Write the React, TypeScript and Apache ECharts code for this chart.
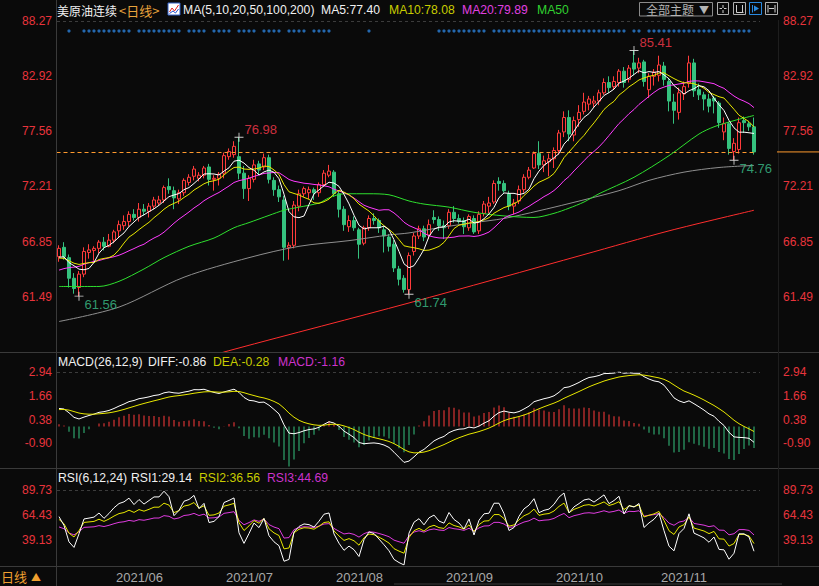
import React, { useEffect, useRef } from "react";
import * as echarts from "echarts";

// ---------- data ----------
const mayDays = [17, 18, 19, 20, 21, 24, 25, 26, 27, 28, 31];
const junDays = [1, 2, 3, 4, 7, 8, 9, 10, 11, 14, 15, 16, 17, 18, 21, 22, 23, 24, 25, 28, 29, 30];
const julDays = [1, 2, 5, 6, 7, 8, 9, 12, 13, 14, 15, 16, 19, 20, 21, 22, 23, 26, 27, 28, 29, 30];
const augDays = [2, 3, 4, 5, 6, 9, 10, 11, 12, 13, 16, 17, 18, 19, 20, 23, 24, 25, 26, 27, 30, 31];
const sepDays = [1, 2, 3, 6, 7, 8, 9, 10, 13, 14, 15, 16, 17, 20, 21, 22, 23, 24, 27, 28, 29, 30];
const octDays = [1, 4, 5, 6, 7, 8, 11, 12, 13, 14, 15, 18, 19, 20, 21, 22, 25, 26, 27, 28, 29];
const novDays = [1, 2, 3, 4, 5, 8, 9, 10, 11, 12, 15, 16, 17, 18, 19, 22, 23, 24, 25, 26];

const opens = [
  65.4, 66.3, 65.3, 63.3, 62.4, 63.7, 65.8, 66.0, 66.2, 66.8, 66.4, 67.0, 67.9, 68.4, 68.8, 69.5, 69.2, 70.0, 69.8, 70.3,
  70.6, 70.9, 72.2, 71.8, 71.0, 71.6, 72.6, 73.2, 73.0, 73.3, 74.1, 72.9, 73.0, 73.5, 75.1, 75.3, 75.1, 73.5, 72.0, 72.9,
  74.4, 74.1, 75.0, 72.8, 71.9, 70.9, 66.3, 66.5, 70.3, 71.5, 71.6, 71.9, 71.6, 72.4, 73.3, 73.6, 71.5, 70.0, 68.3, 68.9,
  68.0, 66.7, 68.2, 69.1, 68.9, 68.0, 67.3, 66.6, 64.2, 63.3, 62.2, 65.9, 67.4, 68.1, 67.5, 69.2, 69.0, 68.4, 68.4, 69.7,
  69.1, 68.9, 68.2, 69.1, 67.9, 69.6, 70.3, 70.7, 72.7, 72.5, 71.5, 70.3, 70.8, 71.9, 73.1, 74.0, 75.4, 74.3, 74.6, 74.9,
  75.7, 77.5, 78.9, 77.2, 78.7, 79.5, 80.2, 80.3, 80.5, 81.3, 82.3, 81.9, 82.3, 83.4, 82.6, 84.2, 83.7, 84.3, 81.6, 82.9,
  83.0, 83.9, 82.4, 80.4, 79.4, 81.2, 82.2, 84.2, 81.6, 81.1, 80.7, 80.8, 80.3, 77.5, 78.3, 75.6, 75.8, 78.6, 78.3, 78.0,
];
const highs = [
  66.5, 66.8, 65.6, 63.8, 64.0, 66.3, 66.6, 66.4, 67.0, 67.3, 67.6, 68.0, 68.9, 69.4, 69.8, 70.0, 70.6, 70.5, 70.6, 71.2,
  71.3, 72.3, 73.0, 72.2, 71.9, 73.0, 73.4, 74.2, 73.6, 74.2, 74.4, 73.3, 73.6, 75.5, 75.9, 76.6, 76.98, 74.2, 73.3, 74.8,
  74.7, 75.4, 75.3, 73.1, 72.3, 71.3, 66.8, 70.8, 71.9, 72.2, 72.2, 72.1, 72.6, 73.8, 74.3, 73.8, 71.8, 70.3, 69.4, 69.3,
  68.2, 68.4, 69.4, 69.6, 69.1, 68.3, 67.6, 67.0, 64.5, 63.6, 65.8, 67.7, 68.4, 68.4, 69.0, 69.9, 69.3, 68.9, 70.0, 70.3,
  69.5, 69.2, 69.5, 69.4, 69.8, 70.8, 71.2, 72.8, 73.1, 72.8, 71.8, 71.0, 72.3, 73.4, 74.1, 75.6, 76.6, 75.2, 75.4, 76.0,
  77.7, 79.5, 79.6, 79.0, 80.1, 81.3, 81.0, 81.0, 81.6, 82.7, 82.9, 82.9, 83.6, 83.8, 84.0, 85.41, 84.7, 84.5, 83.2, 83.6,
  84.9, 84.3, 82.7, 81.2, 81.8, 82.4, 84.9, 84.6, 82.2, 81.4, 81.2, 81.0, 80.5, 78.9, 78.5, 76.9, 78.9, 79.0, 78.5, 78.9,
];
const lows = [
  64.9, 65.1, 62.4, 61.8, 61.56, 63.4, 65.2, 65.0, 65.7, 66.0, 66.3, 66.7, 67.2, 68.0, 68.3, 68.9, 68.8, 69.4, 69.2, 70.0,
  70.4, 70.6, 71.5, 70.0, 70.5, 71.3, 72.3, 72.8, 72.7, 73.0, 72.3, 71.8, 72.3, 73.0, 74.8, 75.0, 72.9, 71.0, 70.8, 72.6,
  73.4, 73.8, 72.5, 71.3, 70.7, 65.0, 65.1, 66.2, 69.8, 71.2, 71.0, 70.9, 71.2, 72.2, 73.1, 71.2, 69.2, 67.9, 67.8, 67.9,
  65.2, 66.5, 67.9, 68.5, 67.7, 65.8, 65.9, 63.9, 62.6, 61.9, 61.74, 65.5, 67.1, 66.9, 67.1, 68.6, 67.9, 67.1, 68.1, 68.7,
  68.6, 67.6, 67.9, 67.6, 67.6, 69.3, 69.6, 70.5, 71.8, 71.6, 69.9, 69.5, 70.5, 71.6, 72.9, 73.9, 73.9, 73.6, 73.2, 74.0,
  75.3, 77.0, 76.6, 76.6, 78.0, 79.2, 79.6, 79.9, 80.1, 81.1, 81.3, 81.6, 81.9, 81.8, 82.3, 83.0, 83.2, 81.9, 80.8, 82.0,
  82.4, 82.0, 79.5, 78.3, 78.7, 80.6, 81.8, 80.9, 80.6, 79.6, 79.4, 79.3, 77.9, 76.7, 75.3, 74.76, 75.4, 77.4, 77.6, 75.3,
];
const closes = [
  66.2, 65.4, 63.3, 62.3, 63.7, 65.9, 66.05, 66.2, 66.8, 66.4, 67.0, 67.8, 68.5, 68.8, 69.5, 69.2, 70.0, 69.8, 70.3, 70.9,
  70.9, 72.1, 71.9, 71.1, 71.6, 72.8, 73.1, 73.9, 73.3, 74.0, 72.9, 73.0, 73.4, 75.2, 75.6, 76.1, 73.5, 72.0, 73.0, 74.3,
  73.8, 75.0, 72.9, 71.9, 71.2, 66.3, 66.5, 70.4, 71.5, 72.0, 71.9, 71.6, 72.4, 73.5, 73.7, 71.5, 70.0, 68.5, 68.9, 68.2,
  66.6, 68.2, 69.1, 68.9, 68.2, 67.4, 66.4, 64.3, 63.2, 62.2, 65.5, 67.4, 68.1, 67.3, 68.5, 69.0, 68.4, 68.2, 69.7, 69.1,
  68.8, 68.3, 69.3, 67.8, 69.5, 70.5, 70.6, 72.5, 72.5, 71.8, 70.3, 70.6, 71.9, 73.1, 73.8, 75.4, 74.3, 74.7, 74.9, 75.7,
  77.4, 78.9, 77.3, 78.6, 79.4, 80.4, 80.7, 80.5, 81.3, 82.3, 81.8, 82.4, 83.4, 82.3, 83.7, 83.6, 84.2, 82.4, 82.9, 83.3,
  84.0, 82.6, 80.5, 79.6, 81.3, 81.9, 84.2, 81.5, 81.1, 80.7, 80.0, 80.5, 78.4, 78.3, 75.9, 76.4, 78.4, 78.4, 78.0, 75.56,
];
// closes of the weeks before the first visible bar (used only to warm up the indicators)
const warmupCloses = [
  60.64, 59.75, 61.28, 63.83, 66.09, 65.05, 64.01, 64.44, 66.02, 65.61, 65.39, 64.8, 64.6, 60.0, 61.42, 61.55, 57.76,
  61.18, 58.56, 60.97, 61.56, 60.55, 59.16, 61.45, 58.65, 59.33, 59.77, 59.6, 59.32, 59.7, 60.18, 63.15, 63.46, 63.13,
  63.38, 62.44, 61.35, 61.43, 62.14, 61.91, 62.94, 63.86, 65.01, 63.58, 64.49, 65.69, 65.63, 64.71, 64.9, 64.92, 65.28,
  66.08, 63.82, 65.37,
];
// long moving averages: [bar index, value]
const ma50Points = [
  [0, 62.5], [8, 62.5], [12, 63.0], [17, 64.2], [21, 65.3], [26, 66.4], [31, 67.2], [35, 68.2], [38, 68.7], [42, 69.4],
  [45, 69.9], [48, 70.2], [52, 70.6], [54, 71.1], [57, 71.5], [62, 71.5], [66, 71.4], [70, 70.8], [73, 70.5], [78, 70.2],
  [83, 69.7], [89, 69.35], [95, 69.2], [99, 69.6], [102, 70.1], [105, 70.7], [108, 71.5], [115, 73.1], [122, 75.2],
  [128, 77.3], [131, 78.0], [135, 78.6], [139, 79.1],
];
const ma100Points = [
  [0, 59.1], [12, 60.5], [25, 63.4], [38, 65.3], [48, 66.4], [58, 66.95], [66, 67.5], [70, 67.7], [76, 68.2], [83, 68.7],
  [89, 69.1], [96, 69.85], [102, 70.55], [112, 71.8], [118, 72.8], [125, 73.6], [132, 74.05], [139, 74.25],
];
const ma200Points = [[0, 51.7], [35, 56.4], [70, 60.9], [105, 65.6], [122, 67.9], [139, 69.9]];

const dotIdx = [
  2, 5, 6, 7, 8, 9, 10, 11, 12, 13, 14, 16, 17, 18, 19, 20, 21, 22, 23, 24, 26, 27, 28, 29, 31, 32, 33, 34, 36, 37, 38, 39,
  41, 42, 43, 44, 46, 47, 48, 49, 51, 52, 53, 54, 62, 76, 77, 78, 79, 80, 81, 82, 83, 84, 85, 87, 88, 89, 90, 91, 92, 93,
  94, 95, 96, 97, 98, 99, 100, 101, 102, 103, 104, 105, 106, 107, 108, 109, 110, 111, 112, 113, 115, 116, 118, 119, 120,
  121, 122, 123, 124, 125, 126, 127, 128, 129, 130, 131, 133, 134, 135, 136, 137, 138,
];
const dotRowValue = 87.3;

const extremeIdx = [4, 36, 70, 115, 135];
const extremeKind = ["low", "high", "low", "high", "low"];

const priceTicks = [61.49, 66.85, 72.21, 77.56, 82.92, 88.27];
const macdTicks = [-0.9, 0.38, 1.66, 2.94];
const rsiTicks = [39.13, 64.43, 89.73];
const priceRange = [56.14, 88.27];
const macdRange = [-2.18, 2.94];
const rsiRange = [13.83, 89.73];
const monthStartIdx = [11, 33, 55, 77, 99, 120];

const legendMain = ["MA5:77.40", "MA10:78.08", "MA20:79.89", "MA50"];
const legendMacd = ["DIFF:-0.86", "DEA:-0.28", "MACD:-1.16"];
const legendRsi = ["RSI1:29.14", "RSI2:36.56", "RSI3:44.69"];

// ---------- styles ----------
const BG = "#0a0a0a";
const UP = "#ff3b3b";
const DOWN = "#35c27e";
const AXIS_RED = "#e8343c";
const FONT = '"Liberation Sans", "Noto Sans CJK SC", sans-serif';
const CJK = '"Noto Sans CJK SC", sans-serif';
const LEG = 12.2;

const pad = (d: number) => (d < 10 ? "0" + d : "" + d);
const dates = [
  ...mayDays.map((d) => `2021-05-${pad(d)}`),
  ...junDays.map((d) => `2021-06-${pad(d)}`),
  ...julDays.map((d) => `2021-07-${pad(d)}`),
  ...augDays.map((d) => `2021-08-${pad(d)}`),
  ...sepDays.map((d) => `2021-09-${pad(d)}`),
  ...octDays.map((d) => `2021-10-${pad(d)}`),
  ...novDays.map((d) => `2021-11-${pad(d)}`),
];

const allCloses = warmupCloses.concat(closes);
const W = warmupCloses.length;

function movingAverage(n: number) {
  return closes.map((_, i) => {
    let s = 0;
    for (let k = 0; k < n; k++) s += allCloses[W + i - k];
    return +(s / n).toFixed(3);
  });
}
function ema(src: number[], n: number) {
  const out: number[] = [];
  src.forEach((v, i) => out.push(i === 0 ? v : (2 * v + (n - 1) * out[i - 1]) / (n + 1)));
  return out;
}
function rsi(n: number) {
  const out: number[] = [];
  let su = 0, sa = 0;
  for (let t = 1; t < allCloses.length; t++) {
    const d = allCloses[t] - allCloses[t - 1];
    const u = Math.max(d, 0), a = Math.abs(d);
    if (t === 1) { su = u; sa = a; } else { su = (u + (n - 1) * su) / n; sa = (a + (n - 1) * sa) / n; }
    out.push(sa === 0 ? 50 : (su / sa) * 100);
  }
  return out.slice(W - 1).map((v) => +v.toFixed(2));
}

export default function App() {
  const ref = useRef<HTMLDivElement>(null);
  useEffect(() => {
    const el = ref.current!;
    const chart = echarts.init(el, null, { renderer: "svg" });

    const ma5 = movingAverage(5), ma10 = movingAverage(10), ma20 = movingAverage(20);
    const e12 = ema(allCloses, 12), e26 = ema(allCloses, 26);
    const diffAll = e12.map((v, i) => v - e26[i]);
    const deaAll = ema(diffAll, 9);
    const diff = diffAll.slice(W).map((v) => +v.toFixed(3));
    const dea = deaAll.slice(W).map((v) => +v.toFixed(3));
    const macd = diff.map((v, i) => +(2 * (v - dea[i])).toFixed(3));
    const rsi1 = rsi(6), rsi2 = rsi(12), rsi3 = rsi(24);
    const last = closes.length - 1;

    const left = 56.5, width = 700;
    const grids = [
      { left, width, top: 21, height: 331 },
      { left, width, top: 372, height: 95 },
      { left, width, top: 490, height: 75 },
    ].map((g) => ({ ...g, outerBoundsMode: "none", containLabel: false, show: false }));

    const mkX = (gi: number, showLabel: boolean) => ({
      type: "category", gridIndex: gi, data: dates, boundaryGap: true,
      axisLine: { show: false }, axisTick: { show: false }, splitLine: { show: false },
      axisLabel: showLabel
        ? {
            show: true, interval: (i: number) => monthStartIdx.includes(i),
            formatter: (v: string) => v.slice(0, 7).replace("-", "/"),
            align: "left", color: "#a8a8a8", fontSize: 13, fontFamily: FONT, margin: 6, padding: [0, 0, 0, 2],
          }
        : { show: false },
    });
    const mkY = (gi: number, range: number[], ticks: number[], pos: "left" | "right") => ({
      type: "value", gridIndex: gi, min: range[0], max: range[1], position: pos, scale: true,
      axisLine: { show: false }, axisTick: { show: false }, splitLine: { show: false },
      axisLabel: {
        show: true, customValues: ticks, showMinLabel: true, showMaxLabel: true,
        formatter: (v: number) => Number(v).toFixed(2), color: AXIS_RED, fontSize: 12, fontFamily: FONT,
        margin: pos === "left" ? 4.5 : 26.5, align: pos === "left" ? "right" : "left",
      },
    });

    const line = (name: string, data: any, color: string, xi: number, yi: number, extra: any = {}) => ({
      name, type: "line", data, xAxisIndex: xi, yAxisIndex: yi, showSymbol: false, symbol: "none",
      lineStyle: { color, width: 1 }, itemStyle: { color }, z: 5, silent: true, clip: true, ...extra,
    });

    const option: any = {
      animation: false,
      backgroundColor: BG,
      grid: grids,
      xAxis: [mkX(0, false), mkX(1, false), mkX(2, true)],
      yAxis: [
        mkY(0, priceRange, priceTicks, "left"), mkY(0, priceRange, priceTicks, "right"),
        mkY(1, macdRange, macdTicks, "left"), mkY(1, macdRange, macdTicks, "right"),
        mkY(2, rsiRange, rsiTicks, "left"), mkY(2, rsiRange, rsiTicks, "right"),
      ],
      series: [
        {
          type: "candlestick", xAxisIndex: 0, yAxisIndex: 0, barWidth: 3.6, z: 3, silent: true,
          data: closes.map((c, i) => [opens[i], c, lows[i], highs[i]]),
          itemStyle: { color: BG, color0: DOWN, borderColor: UP, borderColor0: DOWN, borderWidth: 1 },
          markLine: {
            silent: true, symbol: ["none", "none"], label: { show: false },
            lineStyle: { color: "#ff9a2e", type: [4, 3], width: 1 },
            data: [{ yAxis: closes[last] }],
          },
        },
        line("MA200", ma200Points, "#ff2e2e", 0, 0, { smooth: 0.3 }),
        line("MA100", ma100Points, "#8f8f8f", 0, 0, { smooth: 0.3 }),
        line("MA50", ma50Points, "#2fe02f", 0, 0, { smooth: 0.3 }),
        line("MA20", ma20, "#ff3cff", 0, 0),
        line("MA10", ma10, "#e8e800", 0, 0),
        line("MA5", ma5, "#ffffff", 0, 0),
        {
          type: "scatter", xAxisIndex: 0, yAxisIndex: 0, symbol: "circle", symbolSize: 3.2, silent: true,
          itemStyle: { color: "#2a80d8" }, data: dotIdx.map((i) => [i, dotRowValue]), z: 6,
        },
        {
          type: "scatter", xAxisIndex: 0, yAxisIndex: 0, silent: true, z: 8,
          symbol: "path://M0,4.5H10V5.5H0Z M4.5,0H5.5V10H4.5Z", symbolSize: 9,
          itemStyle: { color: "#ffffff" },
          data: extremeIdx.map((idx, k) => {
            const hi = extremeKind[k] === "high";
            return {
              value: [idx, hi ? highs[idx] : lows[idx]],
              label: {
                show: true, position: "right", distance: 1, offset: [0, hi ? -8 : 8],
                formatter: (p: any) => Number(p.value[1]).toFixed(2),
                color: hi ? "#ff3b4e" : "#3cc08a", fontSize: 13, fontFamily: FONT,
              },
            };
          }),
        },
        {
          type: "bar", xAxisIndex: 1, yAxisIndex: 2, barWidth: 1, silent: true,
          data: macd.map((v) => ({ value: v, itemStyle: { color: v >= 0 ? UP : DOWN } })),
        },
        line("DIFF", diff, "#ffffff", 1, 2),
        line("DEA", dea, "#e8e800", 1, 2),
        line("RSI3", rsi3, "#e03ce0", 2, 4),
        line("RSI2", rsi2, "#e8e800", 2, 4),
        line("RSI1", rsi1, "#ffffff", 2, 4),
      ],
    };
    chart.setOption(option);

    const yLast = chart.convertToPixel({ yAxisIndex: 0 }, closes[last]) as number;

    const txt = (text: string, x: number, y: number, fill: string, size = LEG, family = FONT, align = "left") => ({
      type: "text", x, y, silent: true, z: 100,
      style: { text, fill, font: `${size}px ${family}`, textVerticalAlign: "middle", textAlign: align },
    });
    const ln = (x1: number, y1: number, x2: number, y2: number, stroke: string, dash?: number[], w = 1) => ({
      type: "line", silent: true, z: 50, shape: { x1, y1, x2, y2 },
      style: { stroke, lineWidth: w, lineDash: dash },
    });
    const box = (x: number, y: number, w: number, h: number, stroke: string) => ({
      type: "rect", silent: true, z: 100, shape: { x, y, width: w, height: h },
      style: { fill: "none", stroke, lineWidth: 1 },
    });

    const elements: any[] = [
      // panel separators and frame
      ln(0, 352.5, 819, 352.5, "#3a3a3a"),
      ln(0, 468.5, 819, 468.5, "#3a3a3a"),
      ln(0, 566.5, 819, 566.5, "#3a3a3a"),
      ln(56.5, 0, 56.5, 586, "#3a3a3a"),
      ln(778.5, 20, 778.5, 566, "#1e1e1e"),
      ln(57, 21.5, 760, 21.5, "#3c3c3c", [3, 3]),
      ln(57, 372.5, 760, 372.5, "#3c3c3c", [3, 3]),
      ln(57, 490.5, 760, 490.5, "#3c3c3c", [3, 3]),
      ln(777, yLast, 819, yLast, "#ff9a2e"),
      ln(394, 584, 782, 584, "#3a3a3a"),
      // top legend
      txt("美原油连续", 57, 10, "#f0f0f0", 12, CJK),
      txt("<日线>", 119, 10, "#e8a33c", 13, CJK),
      { type: "rect", silent: true, z: 100, shape: { x: 168, y: 3, width: 12, height: 12 }, style: { fill: "#ffffff", stroke: "#3060c8", lineWidth: 1 } },
      { type: "polyline", silent: true, z: 101, shape: { points: [[169.5, 12], [172, 8], [174.5, 11], [178.5, 5]] }, style: { stroke: "#e02020", lineWidth: 1, fill: "none" } },
      { type: "polyline", silent: true, z: 101, shape: { points: [[169.5, 13.5], [173, 11], [175.5, 13], [178.5, 9]] }, style: { stroke: "#2050d0", lineWidth: 1, fill: "none" } },
      txt("MA(5,10,20,50,100,200)", 183, 10, "#f0f0f0"),
      txt(legendMain[0], 321, 10, "#f0f0f0"),
      txt(legendMain[1], 389, 10, "#c8cc00"),
      txt(legendMain[2], 462, 10, "#e040e0"),
      txt(legendMain[3], 537, 10, "#30d030"),
      // buttons
      box(639.5, 2.5, 73, 13.5, "#8a8a8a"),
      txt("全部主题", 646, 9.5, "#b4b4b4", 12, CJK),
      txt("▼", 699, 9.5, "#b4b4b4", 10, CJK),
      box(717.5, 2.5, 11, 12, "#b0b0b0"),
      ln(723, 5, 723, 8, "#d0d0d0"), ln(723, 10, 723, 13, "#d0d0d0"), ln(719.5, 8.5, 722, 8.5, "#d0d0d0"), ln(724, 8.5, 726.5, 8.5, "#d0d0d0"),
      box(733.5, 2.5, 12, 12, "#b0b0b0"),
      ln(736.5, 5, 736.5, 12.5, "#d0d0d0"), ln(742.5, 5, 742.5, 12.5, "#d0d0d0"), ln(736.5, 12.5, 743.5, 12.5, "#d0d0d0"),
      box(749.5, 2.5, 12, 12, "#2a8ae0"),
      ln(752.5, 5, 752.5, 12.5, "#2a8ae0"),
      { type: "polygon", silent: true, z: 101, shape: { points: [[754, 5.5], [759, 8.5], [754, 11.5]] }, style: { fill: "#2a8ae0" } },
      box(765.5, 2.5, 12, 12, "#b0b0b0"),
      ln(768, 5, 768, 12.5, "#d0d0d0"), ln(769, 8.5, 774, 8.5, "#d0d0d0"), ln(775, 5, 775, 12.5, "#d0d0d0"),
      // MACD legend
      txt("MACD(26,12,9)", 58, 362, "#f0f0f0"),
      txt(legendMacd[0], 148, 362, "#f0f0f0"),
      txt(legendMacd[1], 213, 362, "#c8cc00"),
      txt(legendMacd[2], 278, 362, "#cc33cc"),
      // RSI legend
      txt("RSI(6,12,24)", 58, 478, "#f0f0f0"),
      txt(legendRsi[0], 131, 478, "#f0f0f0"),
      txt(legendRsi[1], 199, 478, "#c8cc00"),
      txt(legendRsi[2], 267, 478, "#cc33cc"),
      // period selector
      txt("日线", 1, 576, "#f0a030", 13, CJK),
      txt("▲", 31, 576, "#f0a030", 10, CJK),
    ];
    chart.setOption({ graphic: { elements } });

    return () => chart.dispose();
  }, []);
  return (
    <div
      ref={ref}
      style={{ position: "fixed", left: 0, top: 0, width: 819, height: 586, background: BG }}
    />
  );
}
